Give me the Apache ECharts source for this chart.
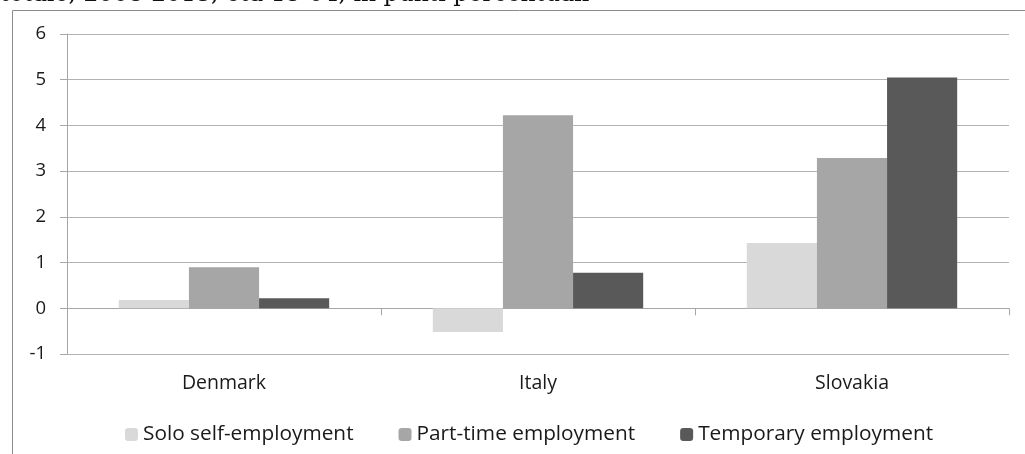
<!DOCTYPE html>
<html>
<head>
<meta charset="utf-8">
<script src="https://cdn.jsdelivr.net/npm/echarts@6/dist/echarts.min.js"></script>
<style>
  html, body { margin: 0; padding: 0; background: #fff; }
  #chart { width: 1025px; height: 454px; }
</style>
</head>
<body>
<div id="chart"></div>
<script>
const countries = ['Denmark', 'Italy', 'Slovakia']
const soloSelf = [0.18, -0.52, 1.43]
const partTime = [0.9, 4.22, 3.29]
const temporary = [0.22, 0.78, 5.05]
const seriesNames = ['Solo self-employment', 'Part-time employment', 'Temporary employment']
const headText = 'totale, 2008-2013, età 15-64, in punti percentuali'

const font = 'Open Sans'
const myChart = echarts.init(document.getElementById('chart'))

myChart.setOption({
  animation: false,
  graphic: [
    {
      type: 'rect',
      shape: { x: 12.5, y: 10.5, width: 1030, height: 460 },
      style: { fill: 'none', stroke: '#8c8c8c', lineWidth: 1 },
      z: -1
    },
    {
      type: 'text',
      left: 0,
      top: -17,
      style: {
        text: headText,
        font: '23.5px "DejaVu Serif", serif',
        fill: '#111'
      }
    }
  ],
  grid: {
    left: 67,
    right: 16,
    top: 34,
    bottom: 100
  },
  legend: {
    data: seriesNames,
    left: 120,
    top: 419,
    itemWidth: 13,
    itemHeight: 13,
    itemGap: 45,
    textStyle: {
      fontFamily: font,
      fontSize: 20.8,
      color: '#1a1a1a'
    }
  },
  xAxis: [
    {
      type: 'category',
      data: countries,
      axisLine: {
        onZero: true,
        lineStyle: { color: '#a6a6a6', width: 1 }
      },
      axisTick: {
        show: true,
        length: 7,
        lineStyle: { color: '#a6a6a6' }
      },
      axisLabel: { show: false }
    },
    {
      type: 'category',
      data: countries,
      position: 'bottom',
      axisLine: { show: false, onZero: false },
      axisTick: { show: false },
      axisLabel: {
        margin: 19,
        fontFamily: font,
        fontSize: 19.5,
        color: '#1a1a1a'
      }
    }
  ],
  yAxis: [
    {
      type: 'value',
      min: -1,
      max: 6,
      interval: 1,
      axisLine: {
        show: true,
        lineStyle: { color: '#a6a6a6' }
      },
      axisTick: {
        show: true,
        length: 7,
        lineStyle: { color: '#a6a6a6' }
      },
      axisLabel: {
        margin: 21,
        fontFamily: font,
        fontSize: 18.5,
        color: '#1a1a1a'
      },
      splitLine: {
        show: true,
        lineStyle: { color: '#b3b3b3', width: 1 }
      }
    }
  ],
  series: [
    {
      name: seriesNames[0],
      type: 'bar',
      color: '#d9d9d9',
      barGap: '0%',
      barCategoryGap: '33%',
      data: soloSelf
    },
    {
      name: seriesNames[1],
      type: 'bar',
      color: '#a6a6a6',
      barGap: '0%',
      barCategoryGap: '33%',
      data: partTime
    },
    {
      name: seriesNames[2],
      type: 'bar',
      color: '#595959',
      barGap: '0%',
      barCategoryGap: '33%',
      data: temporary
    }
  ]
})
</script>
</body>
</html>
